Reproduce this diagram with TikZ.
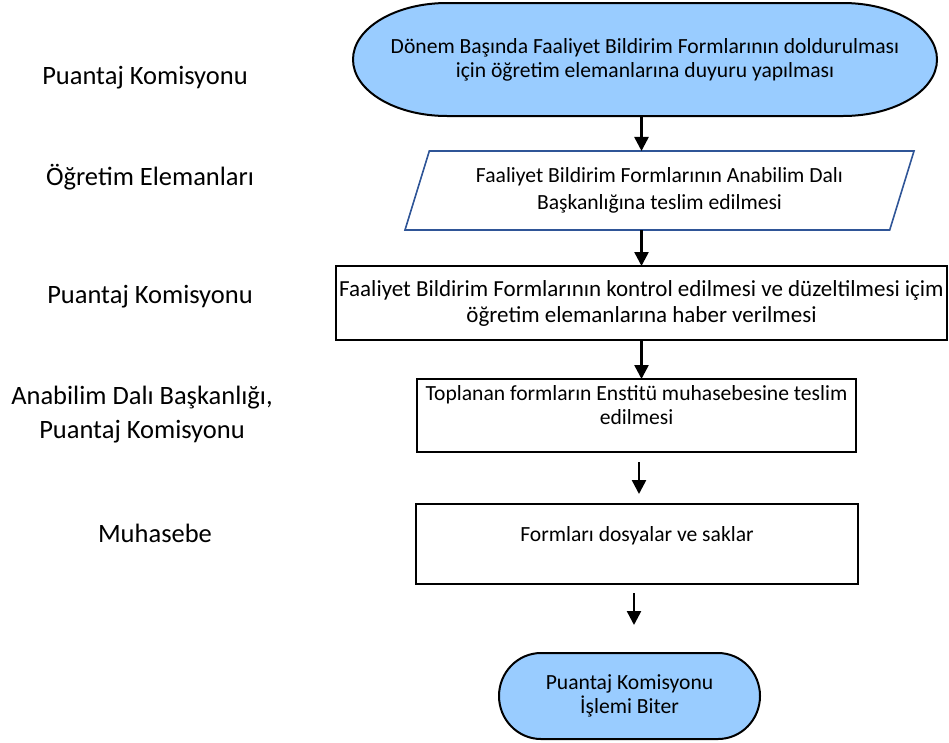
\documentclass[tikz,border=0pt]{standalone}
\usepackage{fontspec}
\setmainfont{Carlito}
\usetikzlibrary{positioning,calc,shapes.geometric,arrows.meta}
\definecolor{termblue}{RGB}{153,204,255}
\definecolor{ioblue}{RGB}{47,85,151}
\pgfdeclarelayer{background}
\pgfsetlayers{background,main}
\newcommand{\boxfont}{\fontsize{21.6}{24}\selectfont}
\newcommand{\wideboxfont}{\fontsize{23}{26}\selectfont}
\newcommand{\lanefont}{\fontsize{26.5}{34}\selectfont}
% outline of a start/end terminal around a named node
\newcommand{\termshape}[1]{%
  \filldraw[termline] let \p1=(#1.north west), \p2=(#1.south east),
    \n1={0.161*(\x2-\x1)}, \n2={0.5*(\y1-\y2)} in
    (\x1+\n1,\y1) -- (\x2-\n1,\y1)
    arc[start angle=90,end angle=-90,x radius={\n1*1pt},y radius={\n2*1pt}]
    -- (\x1+\n1,\y2)
    arc[start angle=270,end angle=90,x radius={\n1*1pt},y radius={\n2*1pt}]
    -- cycle;}
\tikzset{
flowpic/.style={
  x=1pt,y=-1pt
    ,inner sep=0pt
    ,outer sep=0pt
}
,lane/.style={font=\lanefont,align=center}
,term/.style={font=\boxfont,align=center}
,termline/.style={draw=black,line width=2pt,fill=termblue}
,stepbox/.style={draw=black,line width=2pt,font=\boxfont,align=center}
,iobox/.style={
  trapezium,trapezium stretches body,
  trapezium left angle=62,trapezium right angle=118,
  draw=ioblue,line width=1.6pt,
  font=\boxfont,align=center
}
,flow/.style={-{Triangle[width=14pt,length=14pt]},line width=2.5pt}
}

\begin{document}
\begin{tikzpicture}[flowpic]
  \useasboundingbox (0,0) rectangle (949,742);
  % lanes
  \node[lane] (lane1) at (145,78) {Puantaj Komisyonu};
  \node[lane] (lane2) at (150,177) {Öğretim Elemanları};
  \node[lane] (lane3) at (150,297) {Puantaj Komisyonu};
  \node[lane] (lane4) at (142,415) {Anabilim Dalı Başkanlığı,\\Puantaj Komisyonu};
  \node[lane] (lane5) at (155,533) {Muhasebe};
  % steps
  \node[term,minimum width=584pt,minimum height=113pt] (start) at (645,59.5)
    {Dönem Başında Faaliyet Bildirim Formlarının doldurulması\\için öğretim elemanlarına duyuru yapılması};
  \node[iobox,minimum width=509pt,minimum height=79pt] (teslim) at (659.5,190.5)
    {Faaliyet Bildirim Formlarının Anabilim Dalı\\[3pt]Başkanlığına teslim edilmesi};
  \node[stepbox,font=\wideboxfont,minimum width=611pt,minimum height=74pt] (kontrol) at (641.5,303)
    {Faaliyet Bildirim Formlarının kontrol edilmesi ve düzeltilmesi içim\\öğretim elemanlarına haber verilmesi};
  \node[stepbox,minimum width=439pt,minimum height=73pt,text depth=22pt] (topla) at (636.5,415.5)
    {Toplanan formların Enstitü muhasebesine teslim\\edilmesi};
  \node[stepbox,minimum width=442pt,minimum height=80pt,text height=15pt,text depth=20pt] (sakla) at (637,544)
    {Formları dosyalar ve saklar};
  \node[term,minimum width=261pt,minimum height=86pt] (bitir) at (629.5,696)
    {Puantaj Komisyonu\\İşlemi Biter};
  \begin{pgfonlayer}{background}
    \termshape{start}
    \termshape{bitir}
  \end{pgfonlayer}
  % arrows
  \draw[flow] (start.south -| kontrol.north) -- (teslim.north -| kontrol.north);
  \draw[flow] (teslim.south -| kontrol.north) -- (kontrol.north);
  \draw[flow] (kontrol.south) -- (kontrol.south |- topla.north);
  \draw[flow,shorten <=10pt,shorten >=10pt] (topla.south -| 639,0) -- (sakla.north -| 639,0);
  \draw[flow,shorten <=9pt,shorten >=28pt] (sakla.south -| 634,0) -- (bitir.north -| 634,0);
\end{tikzpicture}
\end{document}
